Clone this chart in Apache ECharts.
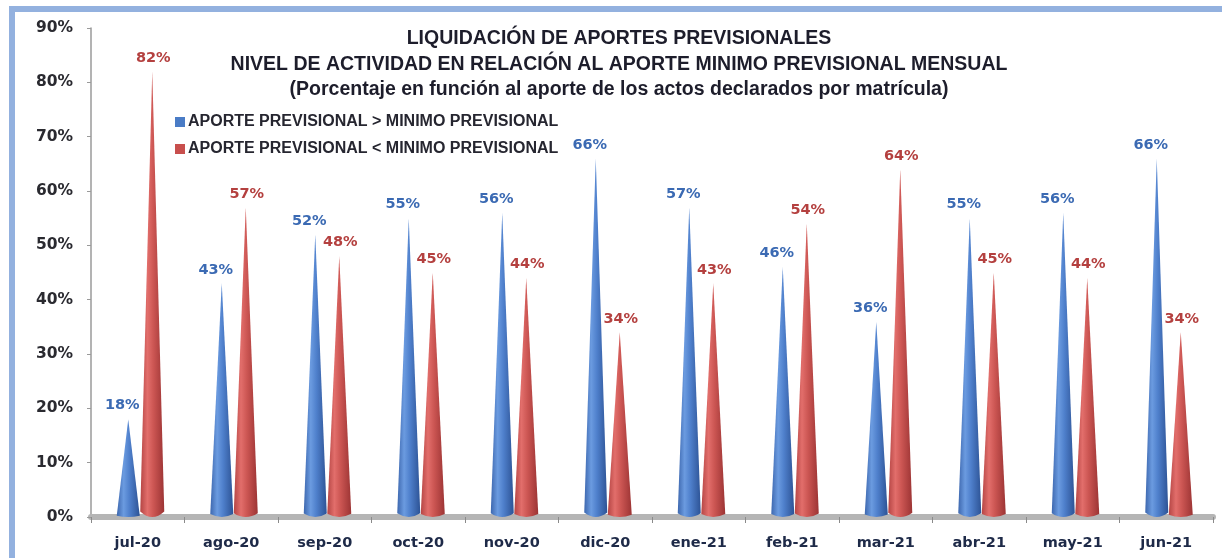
<!DOCTYPE html>
<html>
<head>
<meta charset="utf-8">
<script src="https://cdn.jsdelivr.net/npm/echarts@6/dist/echarts.min.js"></script>
<style>
html,body{margin:0;padding:0;background:#fff;}
#chart{width:1222px;height:558px;}
</style>
</head>
<body>
<div id="chart"></div>
<script>
const categories = ['jul-20','ago-20','sep-20','oct-20','nov-20','dic-20','ene-21','feb-21','mar-21','abr-21','may-21','jun-21'];
const aboveMin = [18,43,52,55,56,66,57,46,36,55,56,66];
const belowMin = [82,57,48,45,44,34,43,54,64,45,44,34];
const seriesNames = ['APORTE PREVISIONAL > MINIMO PREVISIONAL','APORTE PREVISIONAL < MINIMO PREVISIONAL'];
const titleLines = ['LIQUIDACIÓN DE APORTES PREVISIONALES','NIVEL DE ACTIVIDAD EN RELACIÓN AL APORTE MINIMO PREVISIONAL MENSUAL','(Porcentaje en función al aporte de los actos declarados por matrícula)'];

const chart = echarts.init(document.getElementById('chart'), null, {renderer:'canvas'});
const cone = 'path://M0,100 L50,0 L100,100 Q50,102.5 0,100 Z';
function grad(stops){
  return new echarts.graphic.LinearGradient(0,0,1,0, stops.map((c)=>({offset:c[0],color:c[1]})));
}
const blueGrad = grad([[0,'#3d67ae'],[0.3,'#6b9be0'],[0.55,'#4f80cc'],[1,'#2d5395']]);
const redGrad = grad([[0,'#b44544'],[0.3,'#e26e6b'],[0.55,'#cc5653'],[1,'#9c3434']]);

chart.setOption({
  backgroundColor:'#ffffff',
  animation:false,
  graphic:[{
    type:'rect', left:9, top:6, shape:{x:0,y:0,width:1240,height:600},
    style:{fill:'none', stroke:'#93b1df', lineWidth:6}, silent:true, z:-1
  }],
  title:{
    text: titleLines.join('\n'),
    left: 614, top: 21, textAlign:'center',
    textStyle:{fontFamily:'Liberation Sans', fontWeight:'bold', fontSize:19.5, lineHeight:25.5, color:'#1d1d2b'}
  },
  legend:{
    orient:'vertical', left:170, top:109, itemWidth:10, itemHeight:10, itemGap:11, icon:'rect',
    textStyle:{fontFamily:'Liberation Sans', fontWeight:'bold', fontSize:16, color:'#262630', padding:[0,0,0,-2]},
    data:[
      {name:seriesNames[0], itemStyle:{color:'#4a7cc6'}},
      {name:seriesNames[1], itemStyle:{color:'#c84f4d'}}
    ]
  },
  grid:{left:91, right:9, top:28, bottom:41},
  xAxis:{
    type:'category', data:categories,
    axisLine:{show:true, lineStyle:{color:'#b5b5b5', width:6}},
    axisTick:{show:true, length:6, lineStyle:{color:'#8a8a8a'}},
    axisLabel:{margin:19, fontFamily:'DejaVu Sans', fontWeight:'bold', fontSize:14.5, color:'#1e2a48'}
  },
  yAxis:{
    type:'value', min:0, max:90, interval:10,
    axisLine:{show:true, lineStyle:{color:'#9a9a9a', width:1.5}},
    axisTick:{show:true, length:4, lineStyle:{color:'#9a9a9a'}},
    splitLine:{show:false},
    axisLabel:{formatter:'{value}%', margin:18, fontFamily:'DejaVu Sans', fontWeight:'bold', fontSize:15.5, color:'#2a2a30'}
  },
  series:[
    {
      name:seriesNames[0], type:'pictorialBar', data:aboveMin, symbol:cone,
      symbolSize:[23,'100%'], barWidth:23, barGap:'0%', symbolOffset:[2,0],
      itemStyle:{color:blueGrad},
      label:{show:true, position:'top', distance:6, offset:[-4,0], formatter:'{c}%', fontFamily:'DejaVu Sans', fontWeight:'bold', fontSize:14.5, color:'#3b6ab3'},
      z:3
    },
    {
      name:seriesNames[1], type:'pictorialBar', data:belowMin, symbol:cone,
      symbolSize:[24,'100%'], barWidth:23, barGap:'0%', symbolOffset:[3,0],
      itemStyle:{color:redGrad},
      label:{show:true, position:'top', distance:6, offset:[4,0], formatter:'{c}%', fontFamily:'DejaVu Sans', fontWeight:'bold', fontSize:14.5, color:'#b4403f'},
      z:2
    }
  ]
});
</script>
</body>
</html>
